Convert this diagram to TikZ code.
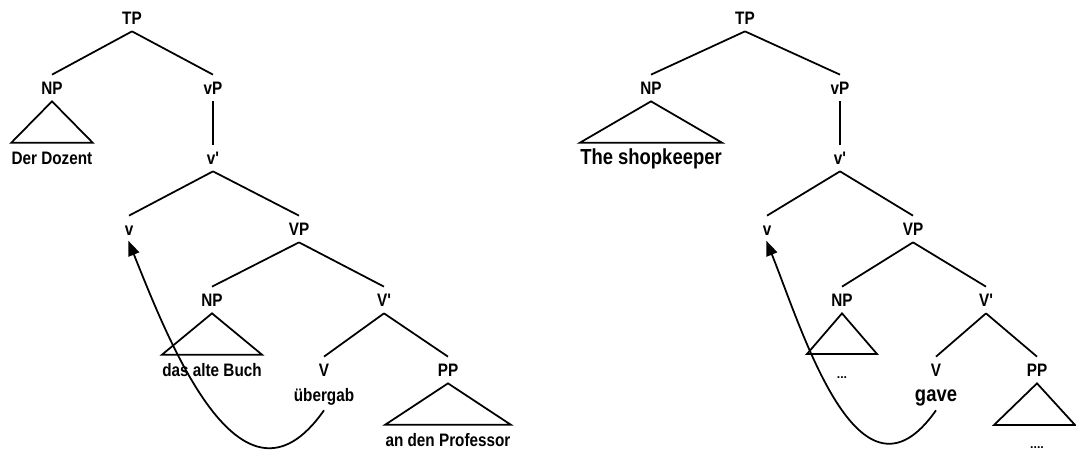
\documentclass[tikz,border=0pt]{standalone}
\usepackage{fontspec}
\setmainfont{Liberation Sans}
\usetikzlibrary{arrows.meta}
\newcommand\tallt[1]{\scalebox{1}[1.18]{#1}}

\begin{document}
\begin{tikzpicture}[x=0.02cm,y=-0.02cm,
    cat/.style={font=\fontsize{8.7}{10}\selectfont\bfseries,text height=7.4pt,text depth=0pt,inner ysep=3.7pt,inner xsep=1pt},
    word/.style={font=\fontsize{8.7}{10}\selectfont\bfseries,text height=7.4pt,text depth=0pt,inner ysep=4.8pt,inner xsep=0pt},
    bigword/.style={word,font=\fontsize{10.5}{12}\selectfont\bfseries},
    dots/.style={word,font=\fontsize{7}{8}\selectfont\bfseries},
    branch/.style={line width=1pt},
    move/.style={line width=1pt,-{Triangle[length=8.5pt,width=6.5pt]},shorten >=-1pt}]
    \useasboundingbox (0,0) rectangle (1076,450);
    \node[cat] (tpa) at (132,18) {\tallt{TP}};
    \node[cat] (npa) at (52,88) {\tallt{NP}};
    \node[cat] (vpa) at (213,88) {\tallt{vP}};
    \node[word] (dera) at (52,158) {\tallt{Der Dozent}};
    \node[cat] (vbara) at (213,158) {\tallt{v\textquotesingle}};
    \node[cat] (va) at (129,229) {\tallt{v}};
    \node[cat] (bigvpa) at (299,229) {\tallt{VP}};
    \node[cat] (npb) at (212,300) {\tallt{NP}};
    \node[cat] (bigvbara) at (384,300) {\tallt{V\textquotesingle}};
    \node[word] (buch) at (212,370) {\tallt{das alte Buch}};
    \node[cat] (bigva) at (324,370) {\tallt{V}};
    \node[word] (uebergab) at (324,395) {\tallt{übergab}};
    \node[cat] (ppa) at (448,370) {\tallt{PP}};
    \node[word] (prof) at (448,440) {\tallt{an den Professor}};
    \draw[branch] (tpa.south) -- (npa.north);
    \draw[branch] (tpa.south) -- (vpa.north);
    \draw[branch] (npa.south) -- (dera.north east) -- (dera.north west) -- cycle;
    \draw[branch] (vpa.south) -- (vbara.north);
    \draw[branch] (vbara.south) -- (va.north);
    \draw[branch] (vbara.south) -- (bigvpa.north);
    \draw[branch] (bigvpa.south) -- (npb.north);
    \draw[branch] (bigvpa.south) -- (bigvbara.north);
    \draw[branch] (npb.south) -- (buch.north east) -- (buch.north west) -- cycle;
    \draw[branch] (bigvbara.south) -- (bigva.north);
    \draw[branch] (bigvbara.south) -- (ppa.north);
    \draw[branch] (ppa.south) -- (prof.north east) -- (prof.north west) -- cycle;
    \draw[move] (uebergab.south) to[out=-125,in=-68,out looseness=1.45,in looseness=1] (va.south);
    \node[cat] (tpb) at (745,18) {\tallt{TP}};
    \node[cat] (npc) at (651,88) {\tallt{NP}};
    \node[cat] (vpb) at (840,88) {\tallt{vP}};
    \node[bigword] (shop) at (651,158) {\tallt{The shopkeeper}};
    \node[cat] (vbarb) at (840,158) {\tallt{v\textquotesingle}};
    \node[cat] (vb) at (767,229) {\tallt{v}};
    \node[cat] (bigvpb) at (913,229) {\tallt{VP}};
    \node[cat] (npd) at (842,300) {\tallt{NP}};
    \node[cat] (bigvbarb) at (986,300) {\tallt{V\textquotesingle}};
    \node[dots] (dotsa) at (842,372) {...};
    \node[cat] (bigvb) at (936,370) {\tallt{V}};
    \node[bigword] (gave) at (936,395) {\tallt{gave}};
    \node[cat] (ppb) at (1037,370) {\tallt{PP}};
    \node[dots] (dotsb) at (1037,442) {....};
    \coordinate (npdl) at (807,354);
    \coordinate (npdr) at (877,354);
    \coordinate (ppbl) at (994,425);
    \coordinate (ppbr) at (1075,425);
    \draw[branch] (tpb.south) -- (npc.north);
    \draw[branch] (tpb.south) -- (vpb.north);
    \draw[branch] (npc.south) -- (shop.north east) -- (shop.north west) -- cycle;
    \draw[branch] (vpb.south) -- (vbarb.north);
    \draw[branch] (vbarb.south) -- (vb.north);
    \draw[branch] (vbarb.south) -- (bigvpb.north);
    \draw[branch] (bigvpb.south) -- (npd.north);
    \draw[branch] (bigvpb.south) -- (bigvbarb.north);
    \draw[branch] (npd.south) -- (npdr) -- (npdl) -- cycle;
    \draw[branch] (bigvbarb.south) -- (bigvb.north);
    \draw[branch] (bigvbarb.south) -- (ppb.north);
    \draw[branch] (ppb.south) -- (ppbr) -- (ppbl) -- cycle;
    \draw[move] (gave.south) to[out=-125,in=-68,out looseness=1.45,in looseness=1] (vb.south);
\end{tikzpicture}
\end{document}
